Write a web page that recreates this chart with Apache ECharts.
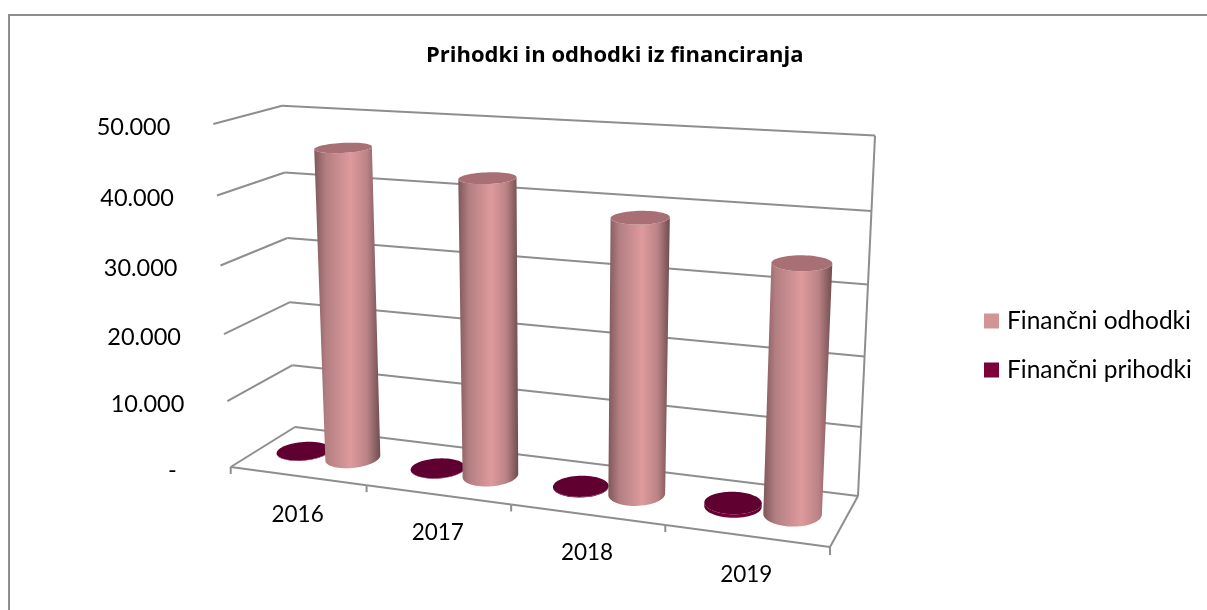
<!DOCTYPE html>
<html>
<head>
<meta charset="utf-8">
<title>Prihodki in odhodki iz financiranja</title>
<script src="https://cdn.jsdelivr.net/npm/echarts@6/dist/echarts.min.js"></script>
<style>
html, body { margin: 0; padding: 0; background: #fff; }
#chart { width: 1207px; height: 610px; }
</style>
</head>
<body>
<div id="chart"></div>
<script>
var categories = ['2016', '2017', '2018', '2019'];
var odhodki = [46000, 43000, 39000, 34500];
var prihodki = [60, 60, 100, 500];
var yTicks = [0, 10000, 20000, 30000, 40000, 50000];
var yTickLabels = ['-', '10.000', '20.000', '30.000', '40.000', '50.000'];

// pogled: vogali tal (sprednji levi, sprednji desni, zadnji desni, zadnji levi), navpicno begalisce
var floor = [[230.7, 467], [830, 547], [858, 496], [295, 427]];
var vanish = [556, 6891];
var topFrontLeftY = 124;

var dx1 = floor[1][0] - floor[2][0], dx2 = floor[3][0] - floor[2][0];
var sx = floor[0][0] - floor[1][0] + floor[2][0] - floor[3][0];
var dy1 = floor[1][1] - floor[2][1], dy2 = floor[3][1] - floor[2][1];
var sy = floor[0][1] - floor[1][1] + floor[2][1] - floor[3][1];
var den = dx1 * dy2 - dx2 * dy1;
var g = (sx * dy2 - dx2 * sy) / den, k = (dx1 * sy - sx * dy1) / den;
var hs = (topFrontLeftY - floor[0][1]) / (vanish[1] - topFrontLeftY);

// u: sirina, v: globina, h: visina, vse 0..1
function project(u, v, h) {
    var x = (floor[1][0] - floor[0][0] + g * floor[1][0]) * u + (floor[3][0] - floor[0][0] + k * floor[3][0]) * v + floor[0][0];
    var y = (floor[1][1] - floor[0][1] + g * floor[1][1]) * u + (floor[3][1] - floor[0][1] + k * floor[3][1]) * v + floor[0][1];
    var w = g * u + k * v + 1;
    x += h * hs * vanish[0];
    y += h * hs * vanish[1];
    w += h * hs;
    return [x / w, y / w];
}

var lineColor = '#8e8e8e';
var lineStyle = { stroke: lineColor, lineWidth: 2 };
function line(a, b) {
    return { type: 'line', shape: { x1: a[0], y1: a[1], x2: b[0], y2: b[1] }, style: lineStyle };
}
function toU(px, params) { return (px - params.coordSys.x) / params.coordSys.width; }
function toH(py, params) { return (params.coordSys.y + params.coordSys.height - py) / params.coordSys.height; }

function renderWall(params, api) {
    var h = toH(api.coord([0, api.value(1)])[1], params);
    var kids = [
        line(project(0, 0, h), project(0, 1, h)),
        line(project(0, 1, h), project(1, 1, h))
    ];
    if (params.dataIndex === 0) {
        kids.push(line(project(1, 1, 0), project(1, 0, 0)));
        kids.push(line(project(1, 1, 0), project(1, 1, 1)));
    }
    var p = project(0, 0, h);
    var isZero = api.value(1) === 0;
    kids.push({
        type: 'text',
        style: {
            x: p[0] - (isZero ? 54 : 43), y: p[1] + 3,
            text: yTickLabels[params.dataIndex],
            fill: '#000', font: '23.5px Lato',
            textAlign: 'right', textVerticalAlign: 'middle'
        }
    });
    return { type: 'group', children: kids };
}

function renderCategory(params, api) {
    var c = api.coord([api.value(0), 0])[0];
    var half = api.size([1, 0])[0] / 2;
    var u0 = toU(c - half, params), u1 = toU(c + half, params), um = toU(c, params);
    var a = project(u0, 0, 0), b = project(u1, 0, 0), m = project(um, 0, 0);
    var kids = [line(a, b), line(a, [a[0], a[1] + 7])];
    if (params.dataIndex === categories.length - 1) kids.push(line(b, [b[0], b[1] + 8]));
    kids.push({
        type: 'text',
        style: {
            x: m[0], y: m[1] + 38.5,
            text: categories[params.dataIndex],
            fill: '#000', font: '22.5px Lato',
            textAlign: 'center', textVerticalAlign: 'middle'
        }
    });
    return { type: 'group', children: kids };
}

var RING = 60;
function ring(u, v, h, ru, rv) {
    var pts = [];
    for (var t = 0; t < RING; t++) {
        var a = t / RING * Math.PI * 2;
        pts.push(project(u + ru * Math.cos(a), v + rv * Math.sin(a), h));
    }
    return pts;
}

function makeCylinder(offset, rv, colors) {
    return function (params, api) {
        var c = api.coord([api.value(0), api.value(1)]);
        var bandU = api.size([1, 0])[0] / params.coordSys.width;
        var u = toU(c[0], params) + offset * bandU;
        var h = toH(c[1], params);
        var ru = 0.044, v = 0.5;
        var bottom = ring(u, v, 0, ru, rv), top = ring(u, v, h, ru, rv);
        var iL = 0, iR = 0;
        bottom.forEach(function (p, i) {
            if (p[0] < bottom[iL][0]) iL = i;
            if (p[0] > bottom[iR][0]) iR = i;
        });
        // sprednji rob spodnjega kroga, od levega do desnega
        var front = [];
        var i = iL;
        var step = bottom[(iL + 1) % RING][1] > bottom[iL][1] ? 1 : -1;
        while (i !== iR) {
            front.push(i);
            i = (i + step + RING) % RING;
        }
        front.push(iR);
        var body = front.map(function (j) { return bottom[j]; });
        front.slice().reverse().forEach(function (j) { body.push(top[j]); });
        var x0 = bottom[iL][0], x1 = bottom[iR][0];
        top.forEach(function (p) { x0 = Math.min(x0, p[0]); x1 = Math.max(x1, p[0]); });
        return {
            type: 'group',
            children: [
                {
                    type: 'polygon',
                    shape: { points: body },
                    style: {
                        fill: new echarts.graphic.LinearGradient(x0, 0, x1, 0, colors.body, true)
                    }
                },
                { type: 'polygon', shape: { points: top }, style: { fill: colors.cap } }
            ]
        };
    };
}

var odhodkiColors = {
    cap: '#a87074',
    body: [
        { offset: 0, color: '#80575a' }, { offset: 0.18, color: '#b37f82' },
        { offset: 0.55, color: '#de9a9c' }, { offset: 0.8, color: '#bb8386' },
        { offset: 1, color: '#6f4c4e' }
    ]
};
var prihodkiColors = {
    cap: '#5f0030',
    body: [
        { offset: 0, color: '#60002e' }, { offset: 0.5, color: '#7c003a' },
        { offset: 1, color: '#60002e' }
    ]
};

function pairs(values) {
    return values.map(function (val, i) { return [i, val]; });
}

var chart = echarts.init(document.getElementById('chart'));
chart.setOption({
    animation: false,
    backgroundColor: '#fff',
    title: {
        text: 'Prihodki in odhodki iz financiranja',
        left: 421, top: 40,
        textStyle: { fontFamily: 'Open Sans', fontWeight: 'bold', fontSize: 22, color: '#000' }
    },
    legend: {
        orient: 'vertical',
        left: 979, top: 303.5,
        itemWidth: 15, itemHeight: 15, itemGap: 24,
        textStyle: { fontFamily: 'Lato', fontSize: 24.5, lineHeight: 24, color: '#000', padding: [0, 0, 0, 3] },
        selectedMode: false,
        data: [
            { name: 'Finančni odhodki', icon: 'rect', itemStyle: { color: '#d19596' } },
            { name: 'Finančni prihodki', icon: 'rect', itemStyle: { color: '#7d0038' } }
        ]
    },
    graphic: [{
        type: 'polyline',
        shape: { points: [[9, 610], [9, 15], [1207, 15]] },
        style: { fill: 'none', stroke: lineColor, lineWidth: 2 },
        silent: true
    }],
    grid: { left: 100, top: 100, width: 800, height: 400 },
    xAxis: { type: 'category', data: categories, show: false },
    yAxis: { type: 'value', min: 0, max: 50000, interval: 10000, show: false },
    series: [
        {
            name: 'wall', type: 'custom', silent: true, z: 1,
            data: yTicks.map(function (t) { return [0, t]; }),
            renderItem: renderWall
        },
        {
            name: 'cat', type: 'custom', silent: true, z: 1,
            data: categories.map(function (c, i) { return [i, 0]; }),
            renderItem: renderCategory
        },
        {
            name: 'Finančni prihodki', type: 'custom', silent: true, z: 2,
            data: pairs(prihodki),
            renderItem: makeCylinder(-0.195, 0.22, prihodkiColors)
        },
        {
            name: 'Finančni odhodki', type: 'custom', silent: true, z: 3,
            data: pairs(odhodki),
            renderItem: makeCylinder(0.18, 0.24, odhodkiColors)
        }
    ]
});
</script>
</body>
</html>
